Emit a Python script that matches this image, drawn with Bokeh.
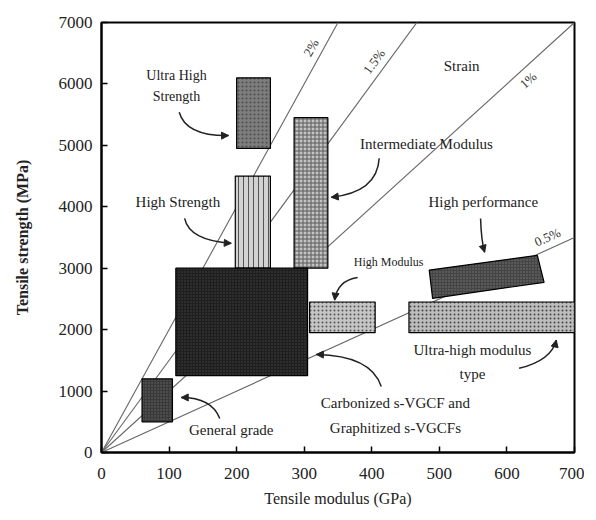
import numpy as np
from bokeh.plotting import figure
from bokeh.models import Range1d, FixedTicker, Arrow, NormalHead, ColumnDataSource
from bokeh.core.properties import value
from bokeh.embed import file_html
from bokeh.resources import INLINE

# ---------------- data ----------------
# rectangular regions: (modulus GPa left/right, strength MPa bottom/top)
reg_names = ["Ultra High Strength", "High Strength", "Intermediate Modulus",
             "Carbonized/Graphitized", "General grade", "High Modulus",
             "Ultra-high modulus"]
reg_x0 = [200, 198, 285, 110, 60, 308, 455]
reg_x1 = [250, 250, 335, 305, 105, 405, 700]
reg_y0 = [4950, 3000, 3000, 1250, 500, 1950, 1950]
reg_y1 = [6100, 4500, 5450, 3000, 1200, 2450, 2450]

# high performance region (tilted), corner points
hp_x = [485, 645, 655, 490]
hp_y = [2970, 3210, 2770, 2510]

# strain lines
strains = [0.02, 0.015, 0.01, 0.005]
strain_labels = ["2%", "1.5%", "1%", "0.5%"]
strain_label_x = [325, 417, 620, 667]
strain_label_side = [1, 1, -1, 1]

x_ticks = [0, 100, 200, 300, 400, 500, 600, 700]
y_ticks = [0, 1000, 2000, 3000, 4000, 5000, 6000, 7000]

# annotation texts
ann_text = ["Ultra High", "Strength", "High Strength", "Intermediate Modulus",
            "Strain", "High performance", "High Modulus",
            "Ultra-high modulus", "type", "Carbonized s-VGCF and",
            "Graphitized s-VGCFs", "General grade"]
ann_x = [111, 111, 113, 481, 533, 565, 425, 549, 549, 435, 435, 192]
ann_y = [6140, 5800, 4080, 5030, 6300, 4080, 3100, 1670, 1270, 800, 400, 370]
ann_size = ["14px", "14px", "15px", "15px", "15px", "15px", "12px",
            "15px", "15px", "15px", "15px", "15px"]

# curved arrows: start, control, end
arr_x0 = [115, 123, 411, 561, 379, 618, 414, 175]
arr_y0 = [5540, 3810, 4790, 3810, 2850, 1370, 1075, 555]
arr_cx = [125, 130, 408, 562, 349, 666, 399, 163]
arr_cy = [5150, 3450, 4235, 3450, 2800, 1500, 1580, 896]
arr_x1 = [188, 192, 340, 567, 345, 673, 318, 118]
arr_y1 = [5160, 3405, 4155, 3260, 2480, 1830, 1596, 896]

# ---------------- figure ----------------
FW, FH = 473, 430
p = figure(frame_width=FW, frame_height=FH,
           x_range=Range1d(0, 700), y_range=Range1d(0, 7000),
           output_backend="svg", toolbar_location=None,
           min_border_left=101, min_border_right=10,
           min_border_top=22, min_border_bottom=60,
           background_fill_color="white", border_fill_color="white")
p.grid.visible = False
p.outline_line_color = "black"
p.outline_line_width = 2
p.outline_line_alpha = 1

serif = "Liberation Serif"
for ax in (p.xaxis[0], p.yaxis[0]):
    ax.major_label_text_font = serif
    ax.major_label_text_font_size = "17px"
    ax.major_label_text_color = "#222"
    ax.axis_label_text_font = serif
    ax.axis_label_text_font_size = "16px"
    ax.axis_label_text_color = "#222"
    ax.axis_label_text_font_style = "normal"
    ax.axis_line_width = 2
    ax.major_tick_in = 6
    ax.major_tick_out = 0
    ax.minor_tick_line_color = None
    ax.major_tick_line_width = 1.5
p.xaxis[0].ticker = FixedTicker(ticks=x_ticks)
p.yaxis[0].ticker = FixedTicker(ticks=y_ticks)
p.xaxis[0].axis_label = "Tensile modulus (GPa)"
p.yaxis[0].axis_label = "Tensile strength (MPa)"
p.yaxis[0].axis_label_text_font_style = "bold"
p.xaxis[0].major_label_standoff = 15
p.yaxis[0].major_label_standoff = 9
p.xaxis[0].axis_label_standoff = 8
p.yaxis[0].axis_label_standoff = 25

kx = FW / 700.0
ky = FH / 7000.0

# strain lines
xs_line = np.array([0.0, 700.0])
for s in strains:
    p.line(xs_line, s * 1000 * xs_line, line_color="#666", line_width=1.1)

# rectangles
fills = ["#7d7d7d", "#d2d2d2", "#c2c2c2", "#1e1e1e", "#3a3a3a", "#c6c6c6", "#bdbdbd"]
hatches = [".", "|", "+", ".", ".", ".", "."]
hcols = ["#4a4a4a", "#555555", "#5a5a5a", "#444444", "#666666", "#555555", "#444444"]
hscale = [4, 5, 4, 3, 3, 4, 4]
src = ColumnDataSource(dict(left=reg_x0, right=reg_x1, bottom=reg_y0, top=reg_y1,
                            fill=fills, hatch=hatches, hcol=hcols, hs=hscale))
p.quad(left="left", right="right", bottom="bottom", top="top", source=src,
       fill_color="fill", hatch_pattern="hatch", hatch_color="hcol",
       hatch_scale="hs", hatch_weight=1, line_color="black", line_width=1.2)

p.patch(hp_x, hp_y, fill_color="#454545", line_color="black", line_width=1.2,
        hatch_pattern=".", hatch_color="#777", hatch_scale=3)

# strain labels
for s, lab, lx, side in zip(strains, strain_labels, strain_label_x, strain_label_side):
    th = np.arctan(s * 1000 * ky / kx)
    d = 4
    xo = -side * d * np.sin(th)
    yo = -side * d * np.cos(th)
    p.text(x=[lx], y=[s * 1000 * lx], text=[lab], angle=th,
           text_align="center", text_baseline="bottom" if side > 0 else "top",
           text_font=value(serif), text_font_size="13px", text_color="#333",
           x_offset=xo, y_offset=yo)

# annotation texts
p.text(x=ann_x, y=ann_y, text=ann_text, text_align="center", text_baseline="middle",
       text_font=value(serif), text_font_size=ann_size, text_color="#222")

# curved arrows
p.quadratic(x0=arr_x0, y0=arr_y0, x1=arr_x1, y1=arr_y1, cx=arr_cx, cy=arr_cy,
            line_color="#222", line_width=1.5)
for x1, y1, cx, cy in zip(arr_x1, arr_y1, arr_cx, arr_cy):
    dx = (x1 - cx) * kx
    dy = (y1 - cy) * ky
    n = np.hypot(dx, dy)
    sx = x1 - 3 * dx / n / kx
    sy = y1 - 3 * dy / n / ky
    p.add_layout(Arrow(end=NormalHead(size=7, fill_color="#222", line_color="#222"),
                       x_start=sx, y_start=sy, x_end=x1, y_end=y1,
                       line_color="#222", line_width=1.5))

open("out.html", "w").write(file_html(p, INLINE))
